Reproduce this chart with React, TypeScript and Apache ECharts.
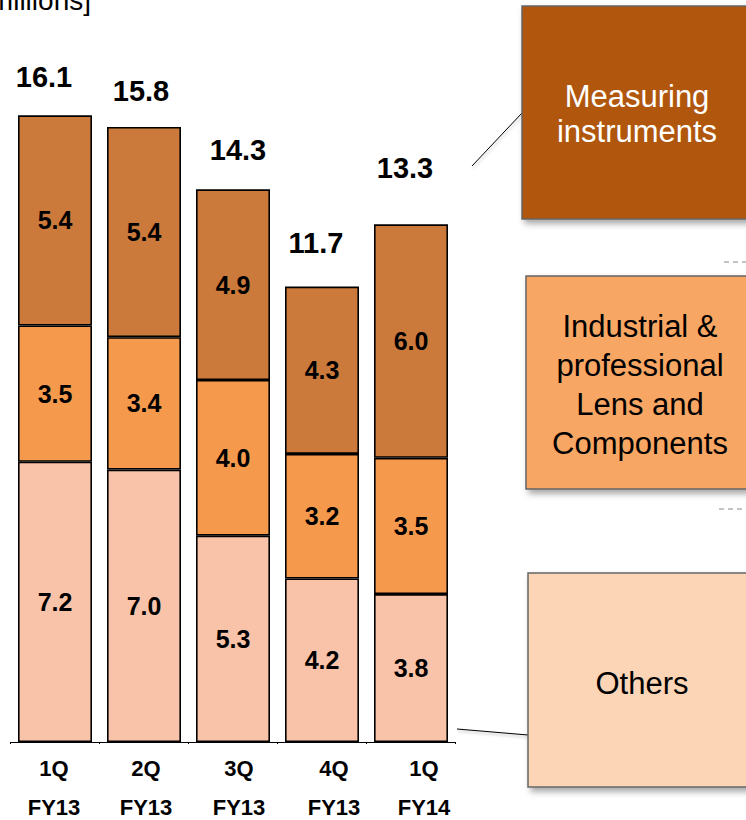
import React, { useEffect, useRef } from "react";
import * as echarts from "echarts";

const quarters = ["1Q", "2Q", "3Q", "4Q", "1Q"];
const fiscalYears = ["FY13", "FY13", "FY13", "FY13", "FY14"];
const measuring = [5.4, 5.4, 4.9, 4.3, 6.0];
const industrial = [3.5, 3.4, 4.0, 3.2, 3.5];
const others = [7.2, 7.0, 5.3, 4.2, 3.8];
const totals = [16.1, 15.8, 14.3, 11.7, 13.3];

// label nudges (style only)
const totalLabelShift = [[-11, -38], [-3, -36], [5, -35], [-6, -44], [-6, -56]];
const catLabelShift = [-1, 2, 6, 12, 13];

const FONT = "'Liberation Sans', Arial, Helvetica, sans-serif";

export default function App() {
  const ref = useRef<HTMLDivElement>(null);
  useEffect(() => {
    document.body.style.margin = "0";
    const chart = echarts.init(ref.current!, null, { renderer: "svg" });
    const categories = quarters.map((q, i) => `${q}\n${fiscalYears[i]}`);
    const rich: Record<string, any> = {};
    catLabelShift.forEach((dx, i) => {
      rich["c" + i] = {
        fontSize: 22,
        fontWeight: "bold",
        fontFamily: FONT,
        color: "#000",
        lineHeight: 39,
        padding: dx >= 0 ? [0, 0, 0, 2 * dx] : [0, -2 * dx, 0, 0],
      };
    });
    const segLabel = {
      show: true,
      position: "inside" as const,
      color: "#000",
      fontWeight: "bold" as const,
      fontSize: 25,
      fontFamily: FONT,
      formatter: (p: any) => Number(p.value).toFixed(1),
    };
    const barBorder = { borderColor: "#000", borderWidth: 1.6 };
    const boxShadow = {
      shadowBlur: 6,
      shadowOffsetX: 3,
      shadowOffsetY: 4,
      shadowColor: "rgba(0,0,0,0.35)",
    };
    chart.setOption({
      animation: false,
      grid: { left: 10.5, right: 746 - 455.5, top: 80.3, bottom: 78, containLabel: false },
      xAxis: {
        type: "category",
        data: categories,
        boundaryGap: true,
        axisLine: { show: true, lineStyle: { color: "#000", width: 1 } },
        axisTick: { show: true, length: 2, lineStyle: { color: "#000" } },
        axisLabel: {
          margin: 7,
          interval: 0,
          formatter: (v: string, i: number) => {
            const [a, b] = v.split("\n");
            return `{c${i}|${a}}\n{c${i}|${b}}`;
          },
          rich,
        },
      },
      yAxis: {
        type: "value",
        min: 0,
        max: 17,
        show: false,
        splitLine: { show: false },
      },
      series: [
        {
          name: "Others",
          type: "bar",
          stack: "total",
          data: others,
          barWidth: 74,
          itemStyle: { color: "#F8C3A8", ...barBorder },
          label: segLabel,
        },
        {
          name: "Industrial & professional Lens and Components",
          type: "bar",
          stack: "total",
          data: industrial,
          barWidth: 74,
          itemStyle: { color: "#F59A4C", ...barBorder },
          label: segLabel,
        },
        {
          name: "Measuring instruments",
          type: "bar",
          stack: "total",
          data: measuring,
          barWidth: 74,
          itemStyle: { color: "#CB7A3B", ...barBorder },
          label: segLabel,
        },
        {
          name: "Total",
          type: "scatter",
          symbolSize: 0,
          z: 5,
          itemStyle: { opacity: 1 },
          data: totals.map((v, i) => ({
            value: v,
            label: { offset: totalLabelShift[i] },
          })),
          label: {
            show: true,
            position: "inside",
            color: "#000",
            fontWeight: "bold",
            fontSize: 29,
            fontFamily: FONT,
            formatter: (p: any) => Number(p.value).toFixed(1),
          },
        },
      ],
      graphic: [
        {
          type: "text",
          x: 91,
          y: 0,
          style: {
            text: "[US$ millions]",
            textAlign: "right",
            textVerticalAlign: "middle",
            fontSize: 28,
            fontFamily: FONT,
            fill: "#000",
          },
        },
        // connector lines
        {
          type: "line",
          shape: { x1: 472, y1: 166, x2: 522, y2: 113 },
          style: { stroke: "#000", lineWidth: 1, shadowBlur: 3, shadowOffsetX: 1, shadowOffsetY: 2, shadowColor: "rgba(0,0,0,0.3)" },
        },
        {
          type: "line",
          shape: { x1: 457, y1: 729, x2: 528, y2: 735 },
          style: { stroke: "#000", lineWidth: 1, shadowBlur: 3, shadowOffsetX: 1, shadowOffsetY: 2, shadowColor: "rgba(0,0,0,0.3)" },
        },
        // dashed fragments
        {
          type: "line",
          shape: { x1: 724, y1: 262, x2: 746, y2: 262 },
          style: { stroke: "#888", lineWidth: 1, lineDash: [5, 4] },
        },
        {
          type: "line",
          shape: { x1: 719, y1: 509, x2: 746, y2: 509 },
          style: { stroke: "#888", lineWidth: 1, lineDash: [5, 4] },
        },
        // legend boxes
        {
          type: "rect",
          shape: { x: 522, y: 6, width: 240, height: 213 },
          style: { fill: "#B0560A", stroke: "#666", lineWidth: 1.5, ...boxShadow },
        },
        {
          type: "text",
          x: 637,
          y: 114,
          style: {
            text: "Measuring\ninstruments",
            textAlign: "center",
            textVerticalAlign: "middle",
            fontSize: 31,
            lineHeight: 35,
            fontFamily: FONT,
            fill: "#fff",
          },
        },
        {
          type: "rect",
          shape: { x: 526, y: 276, width: 240, height: 213 },
          style: { fill: "#F8A664", stroke: "#666", lineWidth: 1.5, ...boxShadow },
        },
        {
          type: "text",
          x: 640,
          y: 385,
          style: {
            text: "Industrial &\nprofessional\nLens and\nComponents",
            textAlign: "center",
            textVerticalAlign: "middle",
            fontSize: 31,
            lineHeight: 39,
            fontFamily: FONT,
            fill: "#000",
          },
        },
        {
          type: "rect",
          shape: { x: 528, y: 573, width: 240, height: 214 },
          style: { fill: "#FBD5B5", stroke: "#666", lineWidth: 1.5, ...boxShadow },
        },
        {
          type: "text",
          x: 642,
          y: 683,
          style: {
            text: "Others",
            textAlign: "center",
            textVerticalAlign: "middle",
            fontSize: 31,
            fontFamily: FONT,
            fill: "#000",
          },
        },
      ],
    });
    return () => chart.dispose();
  }, []);
  return <div ref={ref} style={{ width: 746, height: 820 }} />;
}
